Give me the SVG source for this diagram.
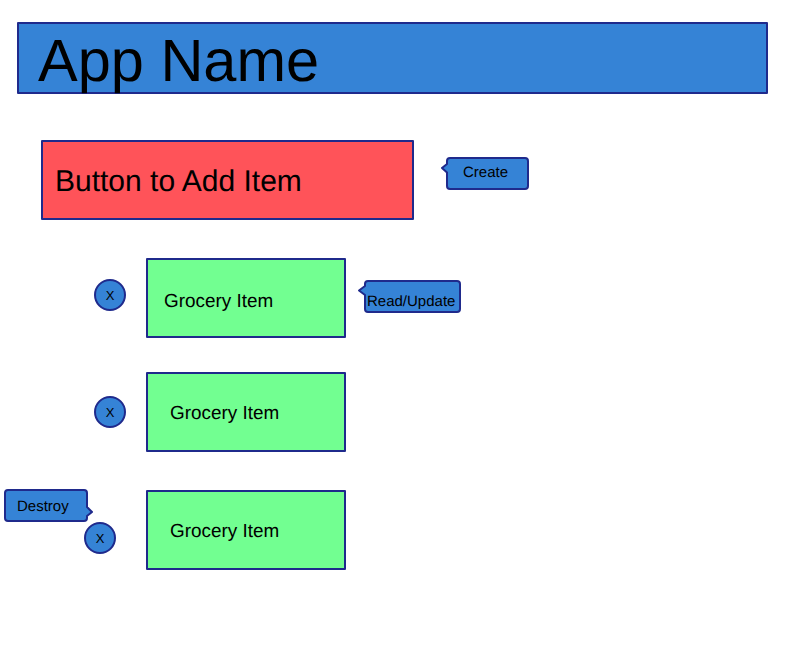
<svg xmlns="http://www.w3.org/2000/svg" width="802" height="665" viewBox="0 0 802 665">
<style>
text{font-family:"Liberation Sans",Arial,sans-serif;fill:#000;text-rendering:geometricPrecision}
.b{stroke:#1f2a8c;stroke-width:2;stroke-linejoin:round}
.blue{fill:#3583d6}
.red{fill:#ff5359}
.green{fill:#72ff91}
.item{font-size:18.900px}
.small{font-size:15px}
.x{font-size:13px;text-anchor:middle}
</style>
<rect width="802" height="665" fill="#fff"/>
<g id="header"><rect class="b blue" x="18" y="23" width="749" height="70"/><text x="38" y="81" font-size="59.500">App Name</text></g>
<g id="add-button"><rect class="b red" x="42" y="141" width="371" height="78"/><text x="55" y="191" font-size="30">Button to Add Item</text></g>
<g id="create-note"><path class="b blue" d="M450 158H525a3 3 0 0 1 3 3V186a3 3 0 0 1-3 3H450a3 3 0 0 1-3-3V172.500L442 168L447 164V161a3 3 0 0 1 3-3Z"/><text class="small" x="463" y="177">Create</text></g>
<g id="item-1"><rect class="b green" x="147" y="259" width="198" height="78"/><text class="item" x="164" y="307">Grocery Item</text></g>
<g id="delete-1"><circle class="b blue" cx="110" cy="295" r="15"/><text class="x" x="110" y="299.500">X</text></g>
<g id="update-note"><path class="b blue" d="M368 281H457a3 3 0 0 1 3 3V309a3 3 0 0 1-3 3H368a3 3 0 0 1-3-3V295L359 290.500L365 286V284a3 3 0 0 1 3-3Z"/><text class="small" x="367" y="306">Read/Update</text></g>
<g id="item-2"><rect class="b green" x="147" y="373" width="198" height="78"/><text class="item" x="170" y="419">Grocery Item</text></g>
<g id="delete-2"><circle class="b blue" cx="110" cy="412" r="15"/><text class="x" x="110" y="416.500">X</text></g>
<g id="item-3"><rect class="b green" x="147" y="491" width="198" height="78"/><text class="item" x="170" y="537">Grocery Item</text></g>
<g id="delete-3"><circle class="b blue" cx="100" cy="538" r="15"/><text class="x" x="100" y="542.500">X</text></g>
<g id="destroy-note"><path class="b blue" d="M8 490H84a3 3 0 0 1 3 3V507L92 512L87 516V518a3 3 0 0 1-3 3H8a3 3 0 0 1-3-3V493a3 3 0 0 1 3-3Z"/><text class="small" x="17" y="511">Destroy</text></g>
<g id="connectors"/>
</svg>
